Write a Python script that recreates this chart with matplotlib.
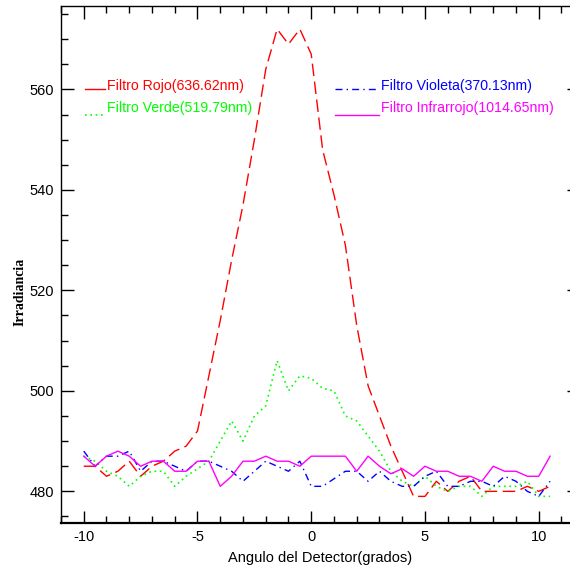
import matplotlib
matplotlib.use("Agg")
import matplotlib.pyplot as plt

# detector angle (grados)
angulo = [-10, -9.5, -9, -8.5, -8, -7.5, -7, -6.5, -6, -5.5, -5, -4.5, -4, -3.5,
          -3, -2.5, -2, -1.5, -1, -0.5, 0, 0.5, 1, 1.5, 2, 2.5, 3, 3.5, 4, 4.5,
          5, 5.5, 6, 6.5, 7, 7.5, 8, 8.5, 9, 9.5, 10, 10.5]

rojo = [485, 485, 483, 484, 486, 483, 485, 486, 488, 489, 492, 503, 514, 526,
        537, 550, 564, 572, 569, 572, 567, 548, 539, 529, 513, 501, 495, 489,
        484, 479, 479, 482, 480, 482, 483, 480, 480, 480, 480, 481, 480, 481]

verde = [487, 486, 484, 483, 481, 483, 484, 484, 481, 483, 484.5, 486, 490, 494,
         490, 495, 497, 506, 500, 503, 502.5, 500.5, 500, 495, 494, 491, 488, 484,
         482, 481, 483, 481, 480, 481, 481, 479, 481, 481, 481, 482, 479, 479]

violeta = [488, 485, 487, 487, 488, 484, 486, 486, 485, 484, 486, 486, 485, 484,
           482, 484, 486, 485, 484, 486, 481, 481, 482.5, 484, 484, 482, 484, 482,
           481, 481, 483, 484, 481, 481, 482, 482, 481, 483, 482, 480, 479, 482]

infrarrojo = [487, 485, 487, 488, 487, 485, 486, 486, 484, 484, 486, 486, 481, 483,
              486, 486, 487, 486, 486, 485, 487, 487, 487, 487, 484, 487, 485, 483.5,
              484.5, 483, 485, 484, 484, 483, 483, 482, 485, 484, 484, 483, 483, 487]

etiquetas = ["Filtro Rojo(636.62nm)", "Filtro Verde(519.79nm)",
             "Filtro Violeta(370.13nm)", "Filtro Infrarrojo(1014.65nm)"]

plt.rcParams['font.family'] = ['Liberation Sans', 'DejaVu Sans']
plt.rcParams['axes.unicode_minus'] = False

fig = plt.figure(figsize=(5.70, 5.71), dpi=100)
ax = fig.add_axes([61 / 570, 48 / 571, 518 / 570, 517 / 571])

estilo_rojo = dict(color='#ff0000', lw=1, dashes=(9, 4))
estilo_verde = dict(color='#00ff00', lw=1.2, dashes=(1, 2.2))
estilo_violeta = dict(color='#0000ff', lw=1, dashes=(5, 3, 1, 3))
estilo_infra = dict(color='#ff00ff', lw=1)

ax.plot(angulo, rojo, **estilo_rojo)
ax.plot(angulo, verde, **estilo_verde)
ax.plot(angulo, violeta, **estilo_violeta)
ax.plot(angulo, infrarrojo, **estilo_infra)

ax.set_xlim(-11, 11.77)
ax.set_ylim(473.7, 576.6)
ax.set_xticks([-10, -5, 0, 5, 10])
ax.set_yticks([480, 500, 520, 540, 560])
ax.set_xticks(range(-11, 12), minor=True)
ax.set_yticks(range(475, 577, 5), minor=True)
ax.tick_params(which='both', direction='in', top=True, right=True,
               labelsize=10.5, width=1, pad=5)
ax.tick_params(which='major', length=9)
ax.tick_params(which='minor', length=5)
for s in ax.spines.values():
    s.set_linewidth(1)
ax.spines['bottom'].set_linewidth(1.6)

ax.set_xlabel("Angulo del Detector(grados)", fontsize=10.5, labelpad=5)
ax.set_ylabel("Irradiancia", fontsize=10, family=['Liberation Serif', 'DejaVu Serif'],
              fontweight='bold')
ax.yaxis.set_label_coords(-0.066, 0.447)

# legend drawn by hand, IDL style (red sample is one long dash)
colores = ['#ff0000', '#00ff00', '#0000ff', '#ff00ff']
estilos = [dict(color='#ff0000', lw=1), estilo_verde, estilo_violeta, estilo_infra]
lx = [(0.046, 0.085), (0.046, 0.085), (0.529, 0.614), (0.529, 0.614)]
ly = [0.8395, 0.789, 0.8395, 0.789]
ty = [0.8375, 0.795, 0.8375, 0.795]
for i in range(4):
    ax.plot(lx[i], [ly[i], ly[i]], transform=ax.transAxes, **estilos[i])
    ax.text(lx[i][1] + 0.004, ty[i], etiquetas[i], color=colores[i],
            transform=ax.transAxes, fontsize=10.2, va='baseline', ha='left')

fig.savefig("out.png", dpi=100)
